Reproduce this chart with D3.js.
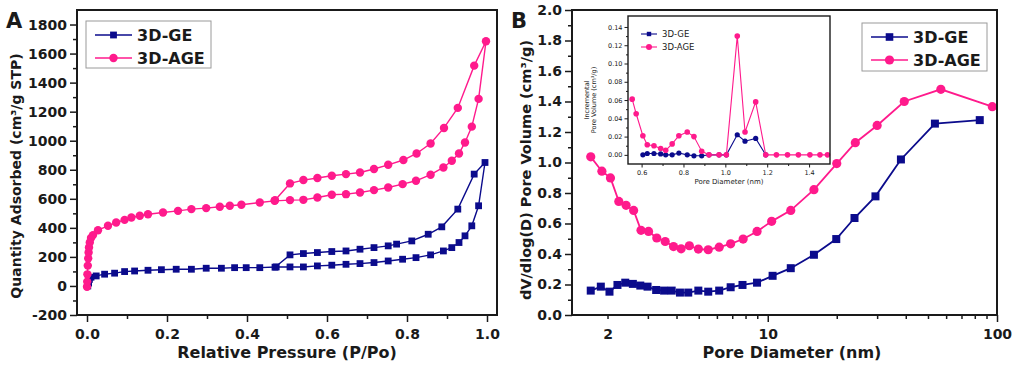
<!DOCTYPE html>
<html>
<head>
<meta charset="utf-8">
<script src="https://cdn.jsdelivr.net/npm/d3@7"></script>
<style>
body { margin: 0; background: #fff; }
text { font-family: "DejaVu Sans", sans-serif; }
</style>
</head>
<body>
<div id="chart"></div>
<script>
// ---- panel A: N2 isotherms ----
var geAdsP = [0.002, 0.004, 0.006, 0.01, 0.023, 0.044, 0.069, 0.094, 0.119, 0.1525, 0.186, 0.223, 0.261, 0.298, 0.336, 0.369, 0.398, 0.432, 0.473, 0.5075, 0.541, 0.576, 0.612, 0.6475, 0.6825, 0.7175, 0.753, 0.789, 0.8225, 0.859, 0.891, 0.912, 0.93, 0.945, 0.962, 0.979, 0.995];
var geAdsV = [0, 20, 45, 60, 69, 81, 88, 99, 103, 108, 112, 115, 115, 122, 122, 126, 126, 126, 131, 131, 131, 138, 143, 149, 154, 161, 172, 184, 195, 214, 241, 264, 299, 345, 414, 552, 850];
var geDesP = [0.968, 0.927, 0.887, 0.853, 0.812, 0.774, 0.753, 0.7175, 0.6825, 0.6475, 0.612, 0.576, 0.541, 0.5075, 0.47];
var geDesV = [770, 529, 407, 356, 310, 288, 276, 264, 253, 241, 237, 230, 223, 214, 129];

var ageAdsP = [0, 0.0005, 0.001, 0.002, 0.003, 0.004, 0.005, 0.007, 0.01, 0.015, 0.0275, 0.0525, 0.073, 0.094, 0.111, 0.132, 0.1525, 0.19, 0.2275, 0.261, 0.298, 0.332, 0.357, 0.386, 0.432, 0.469, 0.5075, 0.541, 0.576, 0.612, 0.6475, 0.6825, 0.7175, 0.753, 0.789, 0.8225, 0.859, 0.891, 0.912, 0.93, 0.945, 0.962, 0.979, 0.9975];
var ageAdsV = [-5, 30, 80, 140, 190, 230, 265, 300, 330, 350, 384, 414, 437, 455, 471, 483, 494, 506, 517, 529, 536, 545, 552, 559, 575, 586, 591, 593, 609, 628, 632, 643, 660, 678, 701, 724, 766, 816, 862, 912, 988, 1097, 1288, 1685];
var ageDesP = [0.968, 0.927, 0.8925, 0.859, 0.824, 0.791, 0.753, 0.7175, 0.6825, 0.6475, 0.612, 0.576, 0.541, 0.5075, 0.47];
var ageDesV = [1517, 1226, 1088, 981, 912, 867, 834, 805, 781, 770, 759, 743, 729, 706, 590];

// ---- panel B: pore size distribution ----
var geDiameter = [1.69, 1.87, 2.04, 2.21, 2.39, 2.58, 2.78, 2.99, 3.26, 3.53, 3.81, 4.14, 4.50, 4.98, 5.50, 6.14, 6.89, 7.76, 8.98, 10.5, 12.6, 15.9, 19.9, 23.9, 29.5, 38.1, 53.6, 84.1];
var geVolume = [0.160, 0.186, 0.153, 0.197, 0.212, 0.204, 0.193, 0.186, 0.164, 0.160, 0.160, 0.147, 0.147, 0.160, 0.153, 0.160, 0.182, 0.197, 0.212, 0.257, 0.307, 0.395, 0.498, 0.636, 0.778, 1.02, 1.255, 1.278];
var ageDiameter = [1.69, 1.89, 2.06, 2.24, 2.41, 2.60, 2.80, 3.02, 3.28, 3.57, 3.88, 4.19, 4.55, 4.98, 5.50, 6.14, 6.89, 7.81, 8.98, 10.4, 12.6, 15.9, 20.0, 24.1, 30.0, 39.4, 56.9, 95.4];
var ageVolume = [1.037, 0.943, 0.899, 0.745, 0.719, 0.686, 0.555, 0.548, 0.505, 0.482, 0.449, 0.434, 0.454, 0.432, 0.428, 0.445, 0.467, 0.498, 0.548, 0.614, 0.686, 0.822, 0.993, 1.13, 1.243, 1.40, 1.48, 1.366];

// ---- inset: incremental pore volume ----
var insetGeDiameter = [0.606, 0.627, 0.659, 0.691, 0.715, 0.746, 0.778, 0.818, 0.850, 0.887, 0.922, 0.970, 1.005, 1.057, 1.094, 1.145, 1.193];
var insetGeVolume = [0, 0.0015, 0.0015, 0.001, 0, 0, 0.002, 0, -0.001, -0.001, 0, 0, 0, 0.022, 0.015, 0.018, 0];
var insetAgeDiameter = [0.555, 0.574, 0.606, 0.627, 0.659, 0.691, 0.715, 0.746, 0.778, 0.818, 0.850, 0.887, 0.922, 0.970, 1.005, 1.057, 1.094, 1.145, 1.193, 1.244, 1.297, 1.349, 1.404, 1.452, 1.488];
var insetAgeVolume = [0.061, 0.045, 0.021, 0.011, 0.010, 0.007, 0.005, 0.012, 0.021, 0.025, 0.020, 0.004, 0, 0, 0, 0.130, 0.025, 0.058, 0, 0, 0, 0, 0, 0, 0];

var seriesNames = ["3D-GE", "3D-AGE"];
var blue = "#0b0b8c",
    pink = "#ff1a8c",
    ink = "#1a1a1a";

var width = 1016,
    height = 367;

var svg = d3.select("#chart")
    .append("svg")
    .attr("width", width)
    .attr("height", height);

function zip(xs, ys) {
    return xs.map(function(v, i) { return [v, ys[i]]; });
}

function drawSeries(g, pts, x, y, color, shape, size, lw) {
    var line = d3.line()
        .x(function(d) { return x(d[0]); })
        .y(function(d) { return y(d[1]); });
    g.append("path")
        .datum(pts)
        .attr("fill", "none")
        .attr("stroke", color)
        .attr("stroke-width", lw)
        .attr("d", line);
    if (shape == "square") {
        g.selectAll(null)
            .data(pts).enter()
            .append("rect")
            .attr("x", function(d) { return x(d[0]) - size; })
            .attr("y", function(d) { return y(d[1]) - size; })
            .attr("width", size * 2)
            .attr("height", size * 2)
            .attr("fill", color);
    } else {
        g.selectAll(null)
            .data(pts).enter()
            .append("circle")
            .attr("cx", function(d) { return x(d[0]); })
            .attr("cy", function(d) { return y(d[1]); })
            .attr("r", size)
            .attr("fill", color);
    }
}

function styleAxis(g, fontSize, lw) {
    g.select(".domain").remove();
    g.selectAll(".tick line").attr("stroke", ink).attr("stroke-width", lw);
    g.selectAll(".tick text")
        .attr("fill", ink)
        .style("font-family", "'DejaVu Sans', sans-serif")
        .style("font-weight", fontSize > 9 ? "bold" : "normal")
        .style("font-size", fontSize + "px");
}

function frame(left, top, right, bottom, lw) {
    svg.append("rect")
        .attr("x", left)
        .attr("y", top)
        .attr("width", right - left)
        .attr("height", bottom - top)
        .attr("fill", "none")
        .attr("stroke", ink)
        .attr("stroke-width", lw);
}

function legend(x0, y0, gap, lineLen, markSize, fontSize, lw, boxW, boxH) {
    if (boxW) {
        svg.append("rect")
            .attr("x", x0 - 9).attr("y", y0 - 14)
            .attr("width", boxW).attr("height", boxH)
            .attr("fill", "#fff").attr("stroke", "#9a9a9a").attr("stroke-width", 1);
    }
    seriesNames.forEach(function(name, i) {
        var yy = y0 + i * gap;
        var color = i == 0 ? blue : pink;
        svg.append("line")
            .attr("x1", x0).attr("x2", x0 + lineLen)
            .attr("y1", yy).attr("y2", yy)
            .attr("stroke", color).attr("stroke-width", lw);
        if (i == 0) {
            svg.append("rect")
                .attr("x", x0 + lineLen / 2 - markSize).attr("y", yy - markSize)
                .attr("width", markSize * 2).attr("height", markSize * 2)
                .attr("fill", color);
        } else {
            svg.append("circle")
                .attr("cx", x0 + lineLen / 2).attr("cy", yy)
                .attr("r", markSize + 0.8)
                .attr("fill", color);
        }
        svg.append("text")
            .attr("x", x0 + lineLen + 5)
            .attr("y", yy)
            .attr("dy", "0.36em")
            .style("font-size", fontSize + "px")
            .style("font-weight", fontSize > 10 ? "bold" : "normal")
            .attr("fill", ink)
            .text(name);
    });
}

// ================= Panel A =================
var aL = 77, aR = 497, aT = 10, aB = 315;
var xA = d3.scaleLinear().domain([-0.025, 1.025]).range([aL, aR]);
var yA = d3.scaleLinear().domain([-200, 1900]).range([aB, aT]);

svg.append("g")
    .attr("transform", "translate(0," + aB + ")")
    .call(d3.axisBottom(xA).tickValues(d3.range(0.1, 1.0, 0.2)).tickSize(4).tickFormat(""))
    .call(styleAxis, 14, 1.5);
svg.append("g")
    .attr("transform", "translate(0," + aB + ")")
    .call(d3.axisBottom(xA).tickValues([0, 0.2, 0.4, 0.6, 0.8, 1.0]).tickSize(7).tickPadding(7).tickFormat(d3.format(".1f")))
    .call(styleAxis, 14, 1.5);
svg.append("g")
    .attr("transform", "translate(" + aL + ",0)")
    .call(d3.axisLeft(yA).tickValues(d3.range(-100, 1900, 200)).tickSize(4).tickFormat(""))
    .call(styleAxis, 14, 1.5);
svg.append("g")
    .attr("transform", "translate(" + aL + ",0)")
    .call(d3.axisLeft(yA).tickValues(d3.range(-200, 1801, 200)).tickSize(7).tickPadding(3).tickFormat(function(d) { return String(d); }))
    .call(styleAxis, 14, 1.5);

var gA = svg.append("g");
drawSeries(gA, zip(geAdsP.concat(geDesP), geAdsV.concat(geDesV)), xA, yA, blue, "square", 3.4, 1.4);
drawSeries(gA, zip(ageAdsP.concat(ageDesP), ageAdsV.concat(ageDesV)), xA, yA, pink, "circle", 4.2, 1.4);
frame(aL, aT, aR, aB, 2);

svg.append("text")
    .attr("transform", "translate(21,176) rotate(-90)")
    .attr("text-anchor", "middle")
    .style("font-size", "14px").style("font-weight", "bold").attr("fill", ink)
    .text("Quantity Adsorbed (cm³/g STP)");
svg.append("text")
    .attr("x", (aL + aR) / 2).attr("y", 358)
    .attr("text-anchor", "middle")
    .style("font-size", "16px").style("font-weight", "bold").attr("fill", ink)
    .text("Relative Pressure (P/Po)");
svg.append("text")
    .attr("x", 6).attr("y", 28)
    .style("font-size", "21px").style("font-weight", "bold").attr("fill", ink)
    .text("A");

legend(95, 35, 23, 37, 3.4, 16, 1.4, 125, 47);

// ================= Panel B =================
var bL = 572, bR = 997, bT = 10, bB = 315;
var xB = d3.scaleLog().domain([1.4, 100]).range([bL, bR]);
var yB = d3.scaleLinear().domain([0, 2.0]).range([bB, bT]);

var minorLog = [3, 4, 5, 6, 7, 8, 9, 20, 30, 40, 50, 60, 70, 80, 90];
svg.append("g")
    .attr("transform", "translate(0," + bB + ")")
    .call(d3.axisBottom(xB).tickValues(minorLog).tickSize(4).tickFormat(""))
    .call(styleAxis, 14, 1.5);
svg.append("g")
    .attr("transform", "translate(0," + bB + ")")
    .call(d3.axisBottom(xB).tickValues([2, 10, 100]).tickSize(7).tickPadding(7).tickFormat(d3.format("d")))
    .call(styleAxis, 14, 1.5)
    .call(function(g) { g.selectAll(".tick").filter(function(d) { return d == 2; }).select("line").attr("y2", 4); });
svg.append("g")
    .attr("transform", "translate(" + bL + ",0)")
    .call(d3.axisLeft(yB).tickValues(d3.range(0.1, 2.0, 0.2)).tickSize(4).tickFormat(""))
    .call(styleAxis, 14, 1.5);
svg.append("g")
    .attr("transform", "translate(" + bL + ",0)")
    .call(d3.axisLeft(yB).tickValues(d3.range(0, 2.01, 0.2)).tickSize(7).tickPadding(3).tickFormat(d3.format(".1f")))
    .call(styleAxis, 14, 1.5);

var gB = svg.append("g");
drawSeries(gB, zip(geDiameter, geVolume), xB, yB, blue, "square", 4, 1.8);
drawSeries(gB, zip(ageDiameter, ageVolume), xB, yB, pink, "circle", 4.6, 1.8);
frame(bL, bT, bR, bB, 2);

svg.append("text")
    .attr("transform", "translate(531,170) rotate(-90)")
    .attr("text-anchor", "middle")
    .style("font-size", "14.5px").style("font-weight", "bold").attr("fill", ink)
    .text("dV/dlog(D) Pore Volume (cm³/g)");
svg.append("text")
    .attr("x", 792).attr("y", 358)
    .attr("text-anchor", "middle")
    .style("font-size", "16px").style("font-weight", "bold").attr("fill", ink)
    .text("Pore Diameter (nm)");
svg.append("text")
    .attr("x", 511).attr("y", 28)
    .style("font-size", "21px").style("font-weight", "bold").attr("fill", ink)
    .text("B");

legend(871, 37, 23, 37, 3.8, 16, 1.6, 125, 48);

// ================= Inset =================
var iL = 628, iR = 830, iT = 16, iB = 164;
var xI = d3.scaleLinear().domain([0.535, 1.5]).range([iL, iR]);
var yI = d3.scaleLinear().domain([-0.01, 0.152]).range([iB, iT]);

svg.append("rect")
    .attr("x", iL).attr("y", iT)
    .attr("width", iR - iL).attr("height", iB - iT)
    .attr("fill", "#fff");

svg.append("g")
    .attr("transform", "translate(0," + iB + ")")
    .call(d3.axisBottom(xI).tickValues([0.7, 0.9, 1.1, 1.3]).tickSize(2).tickFormat(""))
    .call(styleAxis, 6.5, 1);
svg.append("g")
    .attr("transform", "translate(0," + iB + ")")
    .call(d3.axisBottom(xI).tickValues([0.6, 0.8, 1.0, 1.2, 1.4]).tickSize(3.5).tickPadding(3).tickFormat(d3.format(".1f")))
    .call(styleAxis, 6.5, 1);
svg.append("g")
    .attr("transform", "translate(" + iL + ",0)")
    .call(d3.axisLeft(yI).tickValues(d3.range(0.01, 0.15, 0.02)).tickSize(2).tickFormat(""))
    .call(styleAxis, 6.5, 1);
svg.append("g")
    .attr("transform", "translate(" + iL + ",0)")
    .call(d3.axisLeft(yI).tickValues(d3.range(0, 0.141, 0.02)).tickSize(3.5).tickPadding(2).tickFormat(d3.format(".2f")))
    .call(styleAxis, 6.5, 1);

var gI = svg.append("g");
drawSeries(gI, zip(insetGeDiameter, insetGeVolume), xI, yI, blue, "circle", 2.6, 1.1);
drawSeries(gI, zip(insetAgeDiameter, insetAgeVolume), xI, yI, pink, "circle", 2.8, 1.1);
frame(iL, iT, iR, iB, 1.4);

svg.append("text")
    .attr("x", (iL + iR) / 2).attr("y", 184)
    .attr("text-anchor", "middle")
    .style("font-size", "7px").attr("fill", ink)
    .text("Pore Diameter (nm)");
svg.append("text")
    .attr("transform", "translate(589,100) rotate(-90)")
    .attr("text-anchor", "middle")
    .style("font-size", "6.5px").attr("fill", ink)
    .text("Incremental");
svg.append("text")
    .attr("transform", "translate(596,100) rotate(-90)")
    .attr("text-anchor", "middle")
    .style("font-size", "6.5px").attr("fill", ink)
    .text("Pore Volume (cm³/g)");

legend(641, 34, 13, 16, 2.2, 8.5, 1.1, 0, 0);
</script>
</body>
</html>
